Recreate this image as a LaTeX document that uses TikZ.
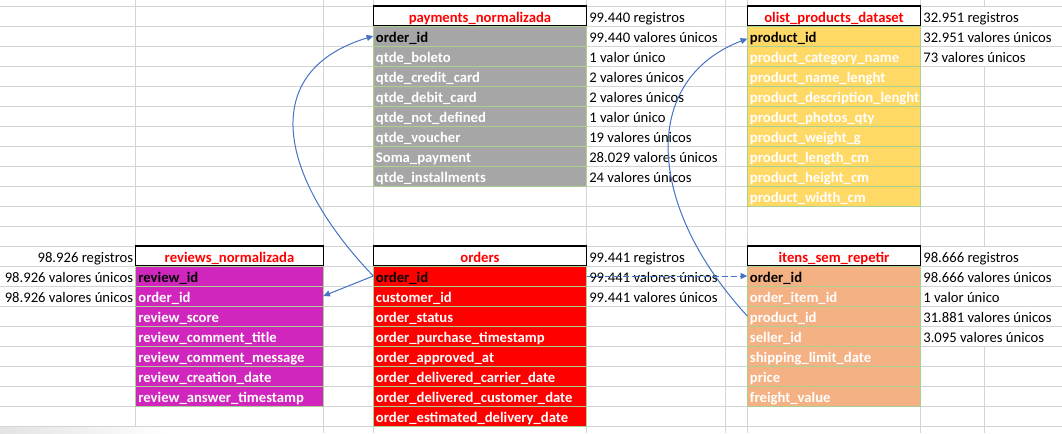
\documentclass[tikz,border=0pt]{standalone}
\usepackage{fontspec}
\setmainfont{Carlito}
\usetikzlibrary{arrows.meta}

\definecolor{gridgray}{HTML}{D4D4D4}
\definecolor{cellline}{HTML}{A9D08E}
\definecolor{paygray}{HTML}{A6A6A6}
\definecolor{prodyellow}{HTML}{FFD966}
\definecolor{revmagenta}{HTML}{D026BD}
\definecolor{ordred}{HTML}{FF0000}
\definecolor{itnorange}{HTML}{F4B183}
\definecolor{linkblue}{HTML}{4472C4}

\tikzset{
  gridline/.style={draw=gridgray, line width=0.75pt},
  field/.style={draw=cellline, line width=0.75pt, inner xsep=2pt, inner ysep=0pt,
    outer sep=0pt, text height=12pt, text depth=3pt, align=left,
    font=\bfseries, text=white, anchor=north west},
  keyfield/.style={text=black},
  header/.style={draw=black, line width=1pt, fill=white, inner xsep=2pt, inner ysep=0pt,
    outer sep=0pt, text height=12pt, text depth=3pt, align=center,
    font=\bfseries, text=ordred, anchor=north west},
  widecol/.style={text width=156pt},
  narrowcol/.style={text width=126pt},
  revcol/.style={text width=136.7pt},
  stat/.style={anchor=west, inner xsep=1.75pt, inner ysep=0pt, text height=12pt, text depth=3pt},
  statleft/.style={stat, anchor=east},
  link/.style={draw=linkblue, line width=0.75pt, -{Triangle[length=5pt,width=4.5pt]}},
}

\begin{document}
\fontsize{11pt}{13pt}\selectfont
\hyphenpenalty=10000 \exhyphenpenalty=10000
\begin{tikzpicture}[x=0.75pt, y=-0.75pt]
\useasboundingbox (0,0) rectangle (1062,433);

% spreadsheet grid
\foreach \gx in {135.7,323.3,373.3,586.7,725.7,747.3,920.7}
  \draw[gridline] (\gx,0) -- (\gx,433);
\draw[gridline] (984.3,0) -- (984.3,6) (984.3,66) -- (984.3,246) (984.3,346) -- (984.3,433);
\foreach \k in {0,...,21}
  \draw[gridline] (0,{6+20*\k}) -- (1062,{6+20*\k});
\shade[left color=gray!22, right color=white] (0,427.5) rectangle (170,433);

% payments_normalizada
\node[header, widecol] (pay-h) at (373.3,6) {payments\_normalizada};
\node[field, widecol, fill=paygray, keyfield] (pay-1) at (373.3,26) {order\_id};
\foreach \name [count=\i from 2] in {qtde\_boleto, qtde\_credit\_card, qtde\_debit\_card,
    qtde\_not\_defined, qtde\_voucher, Soma\_payment, qtde\_installments}
  \node[field, widecol, fill=paygray] (pay-\i) at (373.3,{6+20*\i}) {\name};
\foreach \txt [count=\i from 0] in {99.440 registros, 99.440 valores únicos, 1 valor único,
    2 valores únicos, 2 valores únicos, 1 valor único, 19 valores únicos,
    28.029 valores únicos, 24 valores únicos}
  \node[stat] (pay-s\i) at (586.7,{16+20*\i}) {\txt};

% olist_products_dataset
\node[header, narrowcol] (prd-h) at (747.3,6) {olist\_products\_dataset};
\node[field, narrowcol, fill=prodyellow, keyfield] (prd-1) at (747.3,26) {product\_id};
\foreach \name [count=\i from 2] in {product\_category\_name, product\_name\_lenght,
    product\_description\_lenght, product\_photos\_qty, product\_weight\_g,
    product\_length\_cm, product\_height\_cm, product\_width\_cm}
  \node[field, narrowcol, fill=prodyellow] (prd-\i) at (747.3,{6+20*\i}) {\name};
\foreach \txt [count=\i from 0] in {32.951 registros, 32.951 valores únicos, 73 valores únicos}
  \node[stat] (prd-s\i) at (920.7,{16+20*\i}) {\txt};

% reviews_normalizada
\node[header, revcol] (rev-h) at (135.7,246) {reviews\_normalizada};
\node[field, revcol, fill=revmagenta, keyfield] (rev-1) at (135.7,266) {review\_id};
\foreach \name [count=\i from 2] in {order\_id, review\_score, review\_comment\_title,
    review\_comment\_message, review\_creation\_date, review\_answer\_timestamp}
  \node[field, revcol, fill=revmagenta] (rev-\i) at (135.7,{246+20*\i}) {\name};
\foreach \txt [count=\i from 0] in {98.926 registros, 98.926 valores únicos, 98.926 valores únicos}
  \node[statleft] (rev-s\i) at (135.7,{256+20*\i}) {\txt};

% orders
\node[header, widecol] (ord-h) at (373.3,246) {orders};
\node[field, widecol, fill=ordred, keyfield] (ord-1) at (373.3,266) {order\_id};
\foreach \name [count=\i from 2] in {customer\_id, order\_status, order\_purchase\_timestamp,
    order\_approved\_at, order\_delivered\_carrier\_date, order\_delivered\_customer\_date,
    order\_estimated\_delivery\_date}
  \node[field, widecol, fill=ordred] (ord-\i) at (373.3,{246+20*\i}) {\name};
\foreach \txt [count=\i from 0] in {99.441 registros, 99.441 valores únicos, 99.441 valores únicos}
  \node[stat] (ord-s\i) at (586.7,{256+20*\i}) {\txt};

% itens_sem_repetir
\node[header, narrowcol] (itn-h) at (747.3,246) {itens\_sem\_repetir};
\node[field, narrowcol, fill=itnorange, keyfield] (itn-1) at (747.3,266) {order\_id};
\foreach \name [count=\i from 2] in {order\_item\_id, product\_id, seller\_id,
    shipping\_limit\_date, price, freight\_value}
  \node[field, narrowcol, fill=itnorange] (itn-\i) at (747.3,{246+20*\i}) {\name};
\foreach \txt [count=\i from 0] in {98.666 registros, 98.666 valores únicos, 1 valor único,
    31.881 valores únicos, 3.095 valores únicos}
  \node[stat] (itn-s\i) at (920.7,{256+20*\i}) {\txt};

% relationships
\draw[link] (ord-1.west) .. controls +(-93,-97) and +(-118,36) .. (pay-1.west);
\draw[link] (ord-1.west) -- (rev-2.east);
\draw[link, dash pattern=on 4.5pt off 2.25pt] (ord-1.east) -- (itn-1.west);
\draw[link] (itn-3.west) .. controls +(-102,-111) and +(-107,41) .. ([yshift=-2pt]prd-1.west);
\end{tikzpicture}
\end{document}
